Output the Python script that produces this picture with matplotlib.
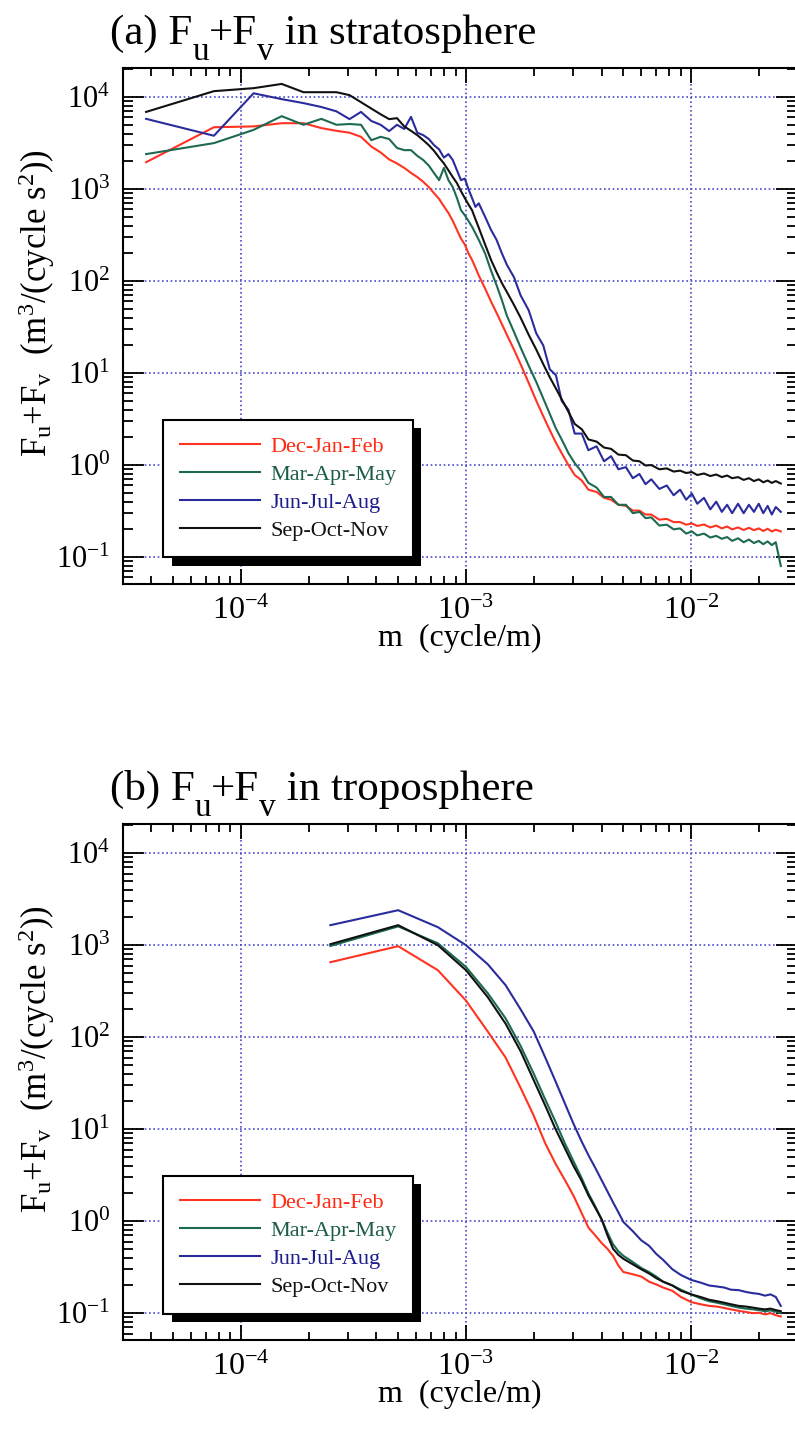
import numpy as np
import matplotlib; matplotlib.use('Agg')
import matplotlib.pyplot as plt
import matplotlib.patheffects as pe
from matplotlib.transforms import IdentityTransform
from matplotlib.ticker import LogLocator, LogFormatterMathtext, NullFormatter

plt.rcParams['font.family'] = ['Liberation Serif', 'DejaVu Serif']
plt.rcParams['mathtext.fontset'] = 'custom'
plt.rcParams['mathtext.rm'] = 'Liberation Serif'
plt.rcParams['mathtext.it'] = 'Liberation Serif:italic'
plt.rcParams['mathtext.default'] = 'regular'

SEASONS = ['Dec-Jan-Feb', 'Mar-Apr-May', 'Jun-Jul-Aug', 'Sep-Oct-Nov']
COLORS = ['#ff3322', '#1d6a52', '#2a2c9c', '#111111']
TXTCOL = ['#ff2a10', '#1d5c45', '#1c1c8c', '#111111']

# ---- (a) stratosphere: wavenumber index k, m = k * DM_A ----
DM_A = 3.8e-5
K_A = [1,2,3,4,5,6,7,8,9,10,11,12,13,14,15,16,17,18,19,20,21,22,23,24,25,26,27,28,29,30,
       32,34,36,38,40,43,46,50,54,58,62,66,70,75,80,86,92,100,108,116,125,135,145,155,165,175,
       190,205,220,235,250,265,280,300,320,340,360,380,400,425,450,475,500,525,550,575,600,625,658]
DJF_A = [1960,4700,4800,5200,5200,4600,4300,4100,3700,2900,2500,2100,1900,1700,1500,1350,1200,1050,900,780,
         650,550,450,360,290,250,200,170,140,115,
         83,60,45,34,26,18,12.5,7.8,5.0,3.4,2.4,1.75,1.35,1.0,0.78,0.68,0.54,0.51,0.44,0.42,0.37,0.36,0.32,0.32,0.29,0.29,
         0.255,0.26,0.24,0.24,0.225,0.232,0.218,0.226,0.21,0.22,0.205,0.215,0.2,0.21,0.197,0.208,0.196,0.205,0.192,0.203,0.19,0.198,0.19]
MAM_A = [2400,3160,4400,6200,5000,5800,5000,5100,5000,3400,3700,3500,2800,2650,2650,2300,2070,1800,1490,1250,
         1700,1250,1050,800,590,520,450,390,330,280,
         200,130,90,62,42,28,19,12,8.0,5.3,3.6,2.5,1.9,1.35,1.05,0.84,0.64,0.57,0.45,0.45,0.37,0.37,0.30,0.31,0.265,0.27,
         0.22,0.225,0.2,0.205,0.18,0.19,0.172,0.18,0.163,0.17,0.158,0.165,0.15,0.16,0.145,0.155,0.142,0.15,0.138,0.148,0.135,0.145,0.08]
JJA_A = [5800,3800,11000,9500,8600,7800,7000,5760,6900,5500,5000,4270,5000,4500,6100,4100,3860,3500,3000,2700,
         2200,2400,2070,1600,1250,1300,1000,800,640,700,
         500,360,280,200,150,110,70,48,27,20,11,9.5,5.0,4.0,2.2,2.2,1.45,1.6,1.1,1.25,0.9,0.95,0.72,0.8,0.62,0.7,
         0.55,0.6,0.47,0.54,0.42,0.49,0.38,0.44,0.33,0.4,0.31,0.37,0.3,0.38,0.3,0.37,0.31,0.38,0.3,0.36,0.29,0.35,0.31]
SON_A = [6900,11600,12500,13900,11300,11300,11300,10500,8800,7500,6500,5760,5900,4800,4300,3860,3400,3000,2600,2200,
         1900,1600,1350,1160,950,800,680,590,470,380,
         250,170,125,95,76,55,40,26,18,12.5,9.0,6.8,5.2,3.8,2.8,2.45,1.9,1.8,1.55,1.5,1.3,1.28,1.12,1.1,0.99,1.0,
         0.9,0.92,0.85,0.87,0.82,0.84,0.78,0.81,0.76,0.79,0.74,0.77,0.72,0.74,0.69,0.72,0.67,0.7,0.65,0.68,0.64,0.67,0.63]

# ---- (b) troposphere: m = k * DM_B ----
DM_B = 2.5e-4
K_B = [1,2,3,4,5,6,7,8,9,10,11,12,13,14,15,16,17,18,19,20,22,24,26,28,30,33,36,40,44,48,52,56,60,65,70,75,80,85,90,95,100]
DJF_B = [653,975,535,250,115,60,28,14,7,4.2,2.8,1.9,1.25,0.85,0.7,0.58,0.5,0.42,0.33,0.28,0.265,0.25,0.22,0.205,0.19,
         0.175,0.15,0.132,0.125,0.12,0.118,0.114,0.11,0.106,0.103,0.1,0.101,0.097,0.1,0.095,0.092]
MAM_B = [980,1600,1050,580,300,160,80,40,21,12,7.0,4.5,3.0,2.0,1.45,1.05,0.75,0.56,0.47,0.42,0.36,0.31,0.28,0.25,0.22,
         0.2,0.18,0.16,0.145,0.135,0.13,0.125,0.12,0.115,0.112,0.11,0.108,0.105,0.107,0.104,0.1]
JJA_B = [1650,2400,1570,1000,620,367,200,115,60,33,19,11.5,7.5,5.2,3.8,2.8,2.1,1.6,1.25,0.98,0.78,0.62,0.54,0.44,0.38,
         0.3,0.26,0.23,0.215,0.2,0.195,0.19,0.18,0.178,0.17,0.165,0.162,0.155,0.16,0.15,0.12]
SON_B = [1025,1650,1000,535,272,140,70,34,18,10,6.2,4.0,2.8,1.9,1.4,1.05,0.7,0.5,0.43,0.39,0.34,0.3,0.27,0.24,0.22,
         0.2,0.175,0.16,0.15,0.14,0.135,0.13,0.125,0.12,0.118,0.115,0.112,0.11,0.112,0.108,0.105]

panels = [
    (np.array(K_A) * DM_A, [DJF_A, MAM_A, JJA_A, SON_A], 'stratosphere', '(a)', 0.5922),
    (np.array(K_B) * DM_B, [DJF_B, MAM_B, JJA_B, SON_B], 'troposphere', '(b)', 0.0642),
]

fig = plt.figure(figsize=(7.95, 14.32), dpi=100)
rend = fig.canvas.get_renderer()


def rich_title(ax, pieces, dx=-13, rise=24):
    # draw "(a) F_u+F_v in ..." piece by piece, subscripts kept large like the original
    bb = ax.get_window_extent(rend)
    x, y = bb.x0 + dx, bb.y1 + rise
    for s, off, size in pieces:
        t = fig.text(x, y + off, s, fontsize=size, transform=IdentityTransform(),
                     ha='left', va='baseline')
        x += t.get_window_extent(rend).width


for m, series, layer, tag, bottom in panels:
    ax = fig.add_axes([0.1547, bottom, 0.8478, 0.3603])
    for vals, c, lab in zip(series, COLORS, SEASONS):
        ax.plot(m, vals, color=c, lw=1.5, label=lab)
    ax.set_xscale('log'); ax.set_yscale('log')
    ax.set_xlim(3e-5, 2.95e-2)
    ax.set_ylim(5.1e-2, 2.07e4)
    ax.xaxis.set_major_locator(LogLocator(base=10, numticks=10))
    ax.xaxis.set_minor_locator(LogLocator(base=10, subs=np.arange(2, 10), numticks=20))
    ax.yaxis.set_major_locator(LogLocator(base=10, numticks=12))
    ax.yaxis.set_minor_locator(LogLocator(base=10, subs=np.arange(2, 10), numticks=20))
    ax.xaxis.set_major_formatter(LogFormatterMathtext())
    ax.yaxis.set_major_formatter(LogFormatterMathtext())
    ax.xaxis.set_minor_formatter(NullFormatter())
    ax.yaxis.set_minor_formatter(NullFormatter())
    ax.tick_params(which='both', direction='in', top=True, right=True, width=1.3)
    ax.tick_params(axis='x', which='major', length=11, pad=9, labelsize=23)
    ax.tick_params(axis='x', which='minor', length=6)
    ax.tick_params(axis='y', which='major', length=15, pad=9, labelsize=22)
    ax.tick_params(axis='y', which='minor', length=7)
    ax.grid(True, which='major', color='#4a4acc', ls=(0, (1, 1.6)), lw=1.2)
    for s in ax.spines.values():
        s.set_linewidth(1.5)
    ax.set_xlabel('m  (cycle/m)', fontsize=23, labelpad=-1)
    ax.set_ylabel(r'F$_{\rm u}$+F$_{\rm v}$  (m$^3$/(cycle s$^2$))', fontsize=25)
    ax.yaxis.set_label_coords(-0.098, 0.545)
    rich_title(ax, [(tag + ' F', 0, 31), ('u', -16, 24), ('+F', 0, 31), ('v', -16, 24),
                    (' in ' + layer, 0, 31)])
    leg = ax.legend(loc='upper left', bbox_to_anchor=(0.06, 0.318), borderaxespad=0,
                    fontsize=16, handlelength=3.6, handletextpad=0.45, labelspacing=0.33,
                    borderpad=0.75, fancybox=False, framealpha=1, edgecolor='black')
    leg.get_frame().set_linewidth(1.5)
    leg.get_frame().set_path_effects([pe.SimplePatchShadow(offset=(6, -6), shadow_rgbFace='black', alpha=1.0),
                                      pe.Normal()])
    for t, c in zip(leg.get_texts(), TXTCOL):
        t.set_color(c)

plt.savefig('out.png', dpi=100, facecolor='white')
